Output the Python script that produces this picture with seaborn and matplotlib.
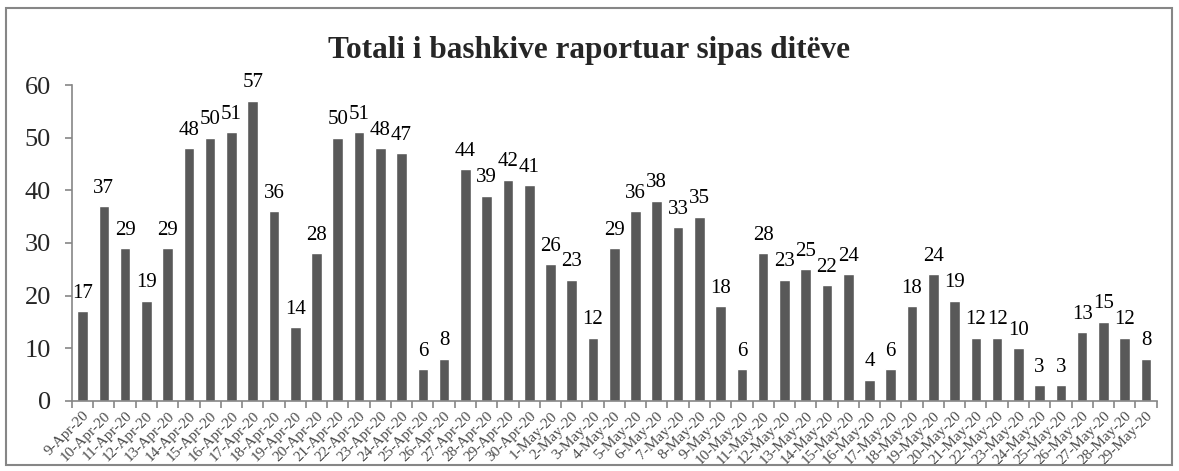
import numpy as np
import pandas as pd
import matplotlib
matplotlib.use("Agg")
import matplotlib.pyplot as plt
import seaborn as sns
from matplotlib.patches import Rectangle

dates = (["%d-Apr-20" % d for d in range(9, 31)] +
         ["%d-May-20" % d for d in range(1, 30)])
values = [17, 37, 29, 19, 29, 48, 50, 51, 57, 36, 14, 28, 50, 51, 48, 47, 6, 8,
          44, 39, 42, 41, 26, 23, 12, 29, 36, 38, 33, 35, 18, 6, 28, 23, 25, 22,
          24, 4, 6, 18, 24, 19, 12, 12, 10, 3, 3, 13, 15, 12, 8]
title = "Totali i bashkive raportuar sipas ditëve"

sns.set_theme(style="white")
plt.rcParams['font.family'] = ['Liberation Serif', 'DejaVu Serif']

df = pd.DataFrame({"date": dates, "value": values})

fig = plt.figure(figsize=(11.79, 4.71), dpi=100)
ax = fig.add_axes([0.061, 0.149, 0.92, 0.6705])
sns.barplot(data=df, x="date", y="value", color="#595959", saturation=1,
            width=0.5, ax=ax)

ax.set_xlim(-0.5, len(dates) - 0.5)
ax.set_ylim(0, 60)
ax.set_yticks(np.arange(0, 61, 10))
ax.set_xlabel("")
ax.set_ylabel("")

for i, v in enumerate(values):
    ax.text(i, v + 1.6, str(v), ha="center", va="bottom", fontsize=15,
            color="black")

gray = "#868686"
for s in ["top", "right"]:
    ax.spines[s].set_visible(False)
for s in ["left", "bottom"]:
    ax.spines[s].set_color(gray)
    ax.spines[s].set_linewidth(1.2)

ax.set_xticks(np.arange(len(dates)))
ax.set_xticklabels(dates, rotation=45, ha="right", rotation_mode="anchor",
                   fontsize=11, color="#4a4a4a")
ax.set_xticks(np.arange(-0.5, len(dates), 1), minor=True)
ax.tick_params(axis="x", which="major", length=0, pad=6)
ax.tick_params(axis="x", which="minor", length=5, color=gray, width=1.2,
               bottom=True)
ax.tick_params(axis="y", length=5, color=gray, width=1.2, left=True,
               labelsize=19, pad=10)

fig.text(0.5, 0.893, title, ha="center", va="center", fontsize=22.5,
         fontweight="bold")

fig.patches.append(Rectangle((6 / 1179, 6 / 471), 1166 / 1179, 457 / 471,
                             transform=fig.transFigure, fill=False,
                             edgecolor=gray, linewidth=1.5))

fig.savefig("out.png", dpi=100)
